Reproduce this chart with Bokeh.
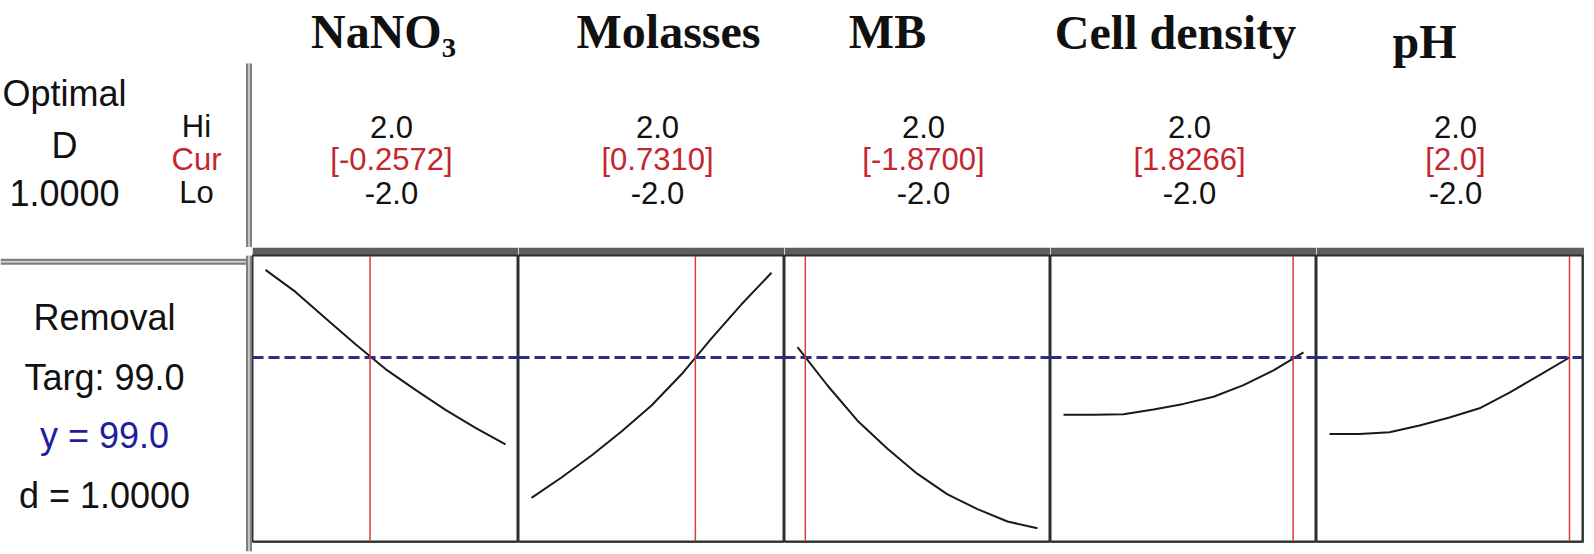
from bokeh.plotting import figure
from bokeh.layouts import row, column
from bokeh.models import Range1d, Span
from bokeh.core.properties import value
from bokeh.embed import file_html
from bokeh.resources import INLINE

# ---------------- data ----------------
factors = ["NaNO₃", "Molasses", "MB", "Cell density", "pH"]
hi_labels = ["2.0", "2.0", "2.0", "2.0", "2.0"]
lo_labels = ["-2.0", "-2.0", "-2.0", "-2.0", "-2.0"]
cur_values = [-0.2572, 0.7310, -1.8700, 1.8266, 2.0]
cur_labels = ["[-0.2572]", "[0.7310]", "[-1.8700]", "[1.8266]", "[2.0]"]

x_grid = [-2.0, -1.5, -1.0, -0.5, 0.0, 0.5, 1.0, 1.5, 2.0]
removal_nano3 = [120.9, 115.4, 108.8, 102.3, 96.1, 90.9, 85.9, 81.4, 77.3]
removal_molasses = [63.9, 69.0, 74.5, 80.5, 87.0, 94.8, 103.8, 112.3, 120.2]
removal_mb = [101.6, 92.0, 83.2, 76.2, 69.9, 64.8, 61.1, 58.0, 56.3]
removal_cell = [84.7, 84.7, 84.8, 86.0, 87.4, 89.2, 92.1, 95.8, 100.3]
removal_ph = [79.9, 79.9, 80.3, 82.0, 84.0, 86.3, 90.2, 94.6, 99.0]
curves = [removal_nano3, removal_molasses, removal_mb, removal_cell, removal_ph]

optimal_lines = ["Optimal", "D", "1.0000"]
level_names = ["Hi", "Cur", "Lo"]
response_lines = ["Removal", "Targ: 99.0", "y = 99.0", "d = 1.0000"]
target = 99.0

# ---------------- styles / layout ----------------
SANS = value("Liberation Sans")
SERIF = value("Liberation Serif")
RED_TXT = "#c4262e"
BLUE_TXT = "#1e1e9e"
DBL = "#7f7f7f"
DBL_IN = "#dcdcdc"

LEFT_W = 252
PANEL_W = 266
TOP_H = 247
BOT_H = 306
PANEL_H = 296

title_dx = [-2, 17, -30, -8, -25]
title_y = [31, 31, 31, 32, 41]
row_y = [126, 159, 192]
optimal_y = [93, 145, 192]
response_y = [311, 373, 433, 495]


def blank(w, h, xr, yr):
    p = figure(width=w, height=h, x_range=xr, y_range=yr, title=None,
               output_backend="svg", toolbar_location=None,
               x_axis_location=None, y_axis_location=None,
               min_border_left=0, min_border_right=0,
               min_border_top=0, min_border_bottom=0)
    p.grid.visible = False
    p.outline_line_color = None
    p.background_fill_color = "white"
    p.border_fill_color = "white"
    return p


def double_line(p, x0, y0, x1, y1):
    p.segment(x0=[x0], y0=[y0], x1=[x1], y1=[y1], line_width=6, line_color=DBL)
    p.segment(x0=[x0], y0=[y0], x1=[x1], y1=[y1], line_width=1.5, line_color=DBL_IN)


# header-left
hl = blank(LEFT_W, TOP_H, Range1d(0, LEFT_W), Range1d(TOP_H, 0))
hl.text(x=[64, 64, 64], y=optimal_y, text=optimal_lines, text_font=SANS,
        text_font_size="36px", text_align="center", text_baseline="alphabetic",
        text_color="#111111")
for name, yb, col in zip(level_names, row_y, ["#111111", RED_TXT, "#111111"]):
    hl.text(x=[196], y=[yb], text=[name], text_font=SANS, text_font_size="31px",
            text_align="center", text_baseline="alphabetic", text_color=col)
double_line(hl, 248.5, 63, 248.5, TOP_H)

# factor headers
headers = []
for i in range(5):
    w = PANEL_W + (2 if i == 4 else 0)
    h = blank(w, TOP_H, Range1d(-133, w - 133), Range1d(TOP_H, 0))
    h.text(x=[title_dx[i]], y=[title_y[i]], text=[factors[i]], text_font=SERIF,
           text_font_style="bold", text_font_size="48px", text_align="center",
           text_baseline="alphabetic", text_color="#111111")
    for lab, yb, col in zip([hi_labels[i], cur_labels[i], lo_labels[i]], row_y,
                            ["#111111", RED_TXT, "#111111"]):
        h.text(x=[6], y=[yb], text=[lab], text_font=SANS, text_font_size="31px",
               text_align="center", text_baseline="alphabetic", text_color=col)
    headers.append(h)

# bottom-left (response)
bl = blank(LEFT_W, BOT_H, Range1d(0, LEFT_W), Range1d(TOP_H + BOT_H, TOP_H))
for lab, yb, col in zip(response_lines, response_y,
                        ["#111111", "#111111", BLUE_TXT, "#111111"]):
    bl.text(x=[104], y=[yb], text=[lab], text_font=SANS, text_font_size="36px",
            text_align="center", text_baseline="alphabetic", text_color=col)
double_line(bl, 0, 253.5, 248.5, 253.5)
double_line(bl, 248.5, TOP_H, 248.5, TOP_H + BOT_H)

# panels
panels = []
for i in range(5):
    last = i == 4
    p = figure(width=PANEL_W + (2 if last else 0), height=PANEL_H, title=None,
               x_range=Range1d(-2.2167, 2.2167), y_range=Range1d(53, 124.5),
               output_backend="svg", toolbar_location=None,
               x_axis_location=None, y_axis_location=None,
               min_border_left=0, min_border_right=2 if last else 0,
               min_border_top=8, min_border_bottom=2)
    p.grid.visible = False
    p.background_fill_color = "white"
    p.border_fill_color = "#5f5f5f"
    p.outline_line_color = "#2e2e2e"
    p.outline_line_width = 2
    p.add_layout(Span(location=target, dimension="width", line_color="#2b2b8e",
                      line_width=3, line_dash="11 5"))
    p.add_layout(Span(location=cur_values[i], dimension="height", line_color="#d93a3a",
                      line_width=1.5))
    p.line(x_grid, curves[i], line_width=2, line_color="#1a1a1a")
    panels.append(p)

layout = column(row(hl, *headers), row(bl, *panels))
open("out.html", "w").write(file_html(layout, INLINE))
